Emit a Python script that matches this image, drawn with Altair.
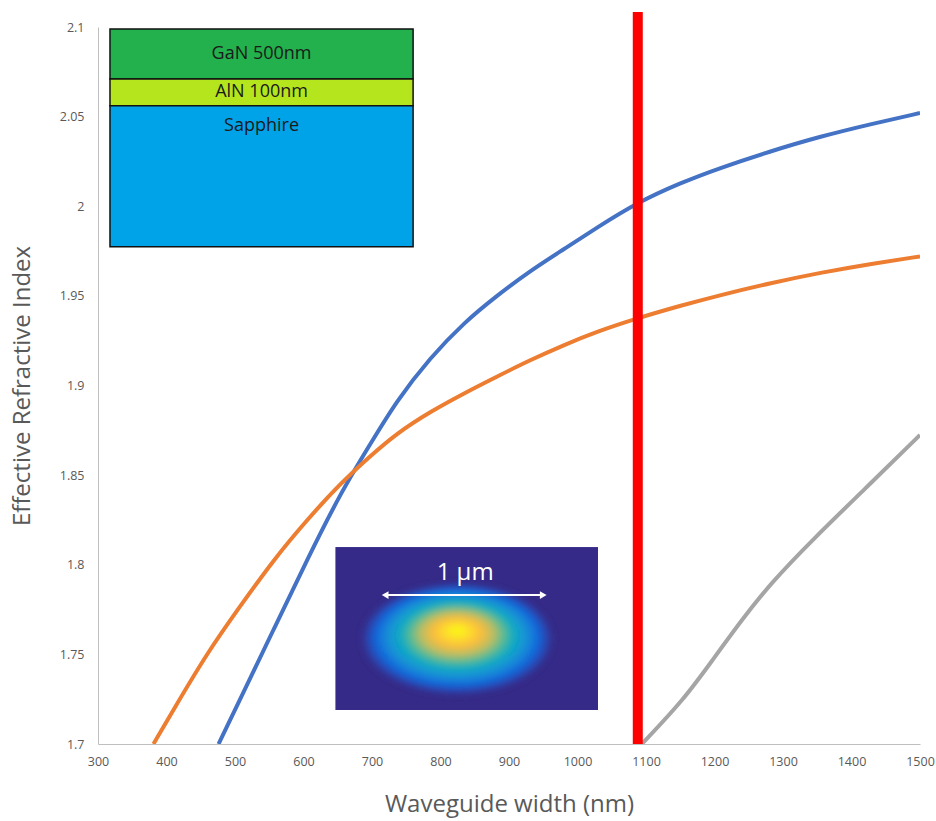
import base64
import altair as alt
import pandas as pd

# Effective index curves (waveguide width in nm)
blue_w = [476, 507, 556, 605, 654, 697, 736, 785, 834, 882, 931, 980, 1028, 1087,
          1150, 1209, 1280, 1355, 1430, 1500]
blue_n = [1.700, 1.7246, 1.7636, 1.8026, 1.840, 1.867, 1.8915, 1.9155, 1.935, 1.950,
          1.964, 1.976, 1.988, 2.002, 2.013, 2.0215, 2.0305, 2.039, 2.046, 2.052]

orange_w = [381, 410, 459, 507, 556, 605, 654, 697, 736, 785, 834, 882, 931, 980,
            1028, 1087, 1150, 1209, 1280, 1355, 1430, 1500]
orange_n = [1.700, 1.719, 1.7506, 1.7766, 1.8026, 1.825, 1.8454, 1.8605, 1.8733, 1.8854,
            1.8956, 1.9049, 1.9142, 1.9226, 1.930, 1.9375, 1.9445, 1.9505, 1.957, 1.963,
            1.968, 1.972]

gray_w = [1094, 1155, 1199, 1238, 1282, 1345, 1418, 1500]
gray_n = [1.700, 1.7246, 1.7478, 1.7683, 1.7897, 1.8147, 1.8417, 1.8724]

cutoff_width = 1088
cutoff_top = 2.1084

x_ticks = list(range(300, 1501, 100))
y_ticks = [1.7, 1.75, 1.8, 1.85, 1.9, 1.95, 2.0, 2.05, 2.1]

# Layer stack inset
stack_names = ["GaN 500nm", "AlN 100nm", "Sapphire"]
stack_top = [2.0989, 2.0710, 2.0560]
stack_bottom = [2.0710, 2.0560, 1.9774]
stack_label_y = [2.0849, 2.0635, 2.0450]
stack_colors = ["#22b14c", "#b5e61d", "#00a2e8"]
stack_left, stack_right = 317.5, 760.0

# Mode profile inset
mode_center = (838.3, 1.7644)
mode_size = (263, 163)
arrow_x = [719.2, 950.0]
arrow_y = 1.7831
scale_label = "1 µm"
scale_label_pos = (836.0, 1.7955)

FONT = "Open Sans"
GREY_TEXT = "#595959"

curves = pd.concat([
    pd.DataFrame({"w": blue_w, "n": blue_n, "s": "TE"}),
    pd.DataFrame({"w": orange_w, "n": orange_n, "s": "TM"}),
    pd.DataFrame({"w": gray_w, "n": gray_n, "s": "TE1"}),
])

x_scale = alt.Scale(domain=[300, 1500], nice=False, zero=False)
y_scale = alt.Scale(domain=[1.7, 2.1], nice=False, zero=False)

x_axis = alt.Axis(values=x_ticks, format="d", grid=False, ticks=False, domainColor="#bfbfbf",
                  labelColor=GREY_TEXT, labelFontSize=12.5, labelFont=FONT, labelPadding=11,
                  labelFlush=False,
                  title="Waveguide width (nm)", titleFont=FONT, titleFontSize=24,
                  titleFontWeight="normal", titleColor=GREY_TEXT, titlePadding=25)
y_axis = alt.Axis(values=y_ticks, format=".2~f", grid=False, ticks=False, domainColor="#bfbfbf",
                  labelColor=GREY_TEXT, labelFontSize=12.5, labelFont=FONT, labelPadding=14,
                  labelFlush=False,
                  title="Effective Refractive Index", titleFont=FONT, titleFontSize=24,
                  titleFontWeight="normal", titleColor=GREY_TEXT, titlePadding=25)

lines = alt.Chart(curves).mark_line(strokeWidth=4, interpolate="basis", clip=True).encode(
    x=alt.X("w:Q", scale=x_scale, axis=x_axis),
    y=alt.Y("n:Q", scale=y_scale, axis=y_axis),
    color=alt.Color("s:N", scale=alt.Scale(domain=["TE", "TM", "TE1"],
                                           range=["#4472c4", "#ed7d31", "#a5a5a5"]), legend=None),
    detail="s:N",
)

cutoff = alt.Chart(pd.DataFrame({"w": [cutoff_width], "top": [cutoff_top], "bot": [1.7]})).mark_rule(
    color="#ff0000", strokeWidth=10, strokeCap="butt", clip=False
).encode(x=alt.X("w:Q", scale=x_scale), y=alt.Y("top:Q", scale=y_scale), y2="bot:Q")

stack_df = pd.DataFrame({
    "name": stack_names, "top": stack_top, "bottom": stack_bottom, "ly": stack_label_y,
    "l": [stack_left] * 3, "r": [stack_right] * 3, "c": stack_colors,
})
stack_rects = alt.Chart(stack_df).mark_rect(stroke="#111111", strokeWidth=1.5).encode(
    x=alt.X("l:Q", scale=x_scale), x2="r:Q",
    y=alt.Y("top:Q", scale=y_scale), y2="bottom:Q",
    fill=alt.Fill("c:N", scale=None),
)
stack_text = alt.Chart(stack_df).mark_text(font=FONT, fontSize=18, color="#1a1a1a").encode(
    x=alt.X("xm:Q", scale=x_scale), y=alt.Y("ly:Q", scale=y_scale), text="name:N",
).transform_calculate(xm=f"{(stack_left + stack_right) / 2}")

# Mode field picture: parula-coloured elliptical spot on a dark background
mw, mh = mode_size
stops = [(0.0, "#f9fb0e"), (0.12, "#fde02a"), (0.25, "#fbbd3c"), (0.38, "#b9bd62"),
         (0.5, "#4cb99a"), (0.6, "#0fa9c5"), (0.72, "#1490d6"), (0.84, "#1068dc"),
         (0.93, "#2a45b0"), (1.0, "#352a87")]
stop_xml = "".join(f"<stop offset='{o}' stop-color='{c}'/>" for o, c in stops)
svg = (f"<svg xmlns='http://www.w3.org/2000/svg' width='{mw}' height='{mh}' viewBox='0 0 {mw} {mh}'>"
       f"<defs><radialGradient id='g' cx='0.5' cy='0.5' r='0.5' fx='0.5' fy='0.42'>{stop_xml}</radialGradient>"
       f"<filter id='b'><feGaussianBlur stdDeviation='3'/></filter></defs>"
       f"<rect width='{mw}' height='{mh}' fill='#352a87'/>"
       f"<ellipse cx='122' cy='92' rx='96' ry='56' fill='url(#g)' filter='url(#b)'/>"
       f"</svg>")
mode_url = "data:image/svg+xml;base64," + base64.b64encode(svg.encode()).decode()

mode_img = alt.Chart(pd.DataFrame({"x": [mode_center[0]], "y": [mode_center[1]], "u": [mode_url]})).mark_image(
    width=mw, height=mh, aspect=False
).encode(x=alt.X("x:Q", scale=x_scale), y=alt.Y("y:Q", scale=y_scale), url="u:N")

arrow_df = pd.DataFrame({"x": [arrow_x[0]], "x2": [arrow_x[1]], "y": [arrow_y]})
arrow_line = alt.Chart(arrow_df).mark_rule(color="white", strokeWidth=2).encode(
    x=alt.X("x:Q", scale=x_scale), x2="x2:Q", y=alt.Y("y:Q", scale=y_scale))
heads = alt.Chart(pd.DataFrame({"x": arrow_x, "y": [arrow_y] * 2,
                                "sh": ["triangle-left", "triangle-right"]})).mark_point(
    filled=True, color="white", opacity=1, size=60
).encode(x=alt.X("x:Q", scale=x_scale), y=alt.Y("y:Q", scale=y_scale),
         shape=alt.Shape("sh:N", scale=None))
scale_text = alt.Chart(pd.DataFrame({"x": [scale_label_pos[0]], "y": [scale_label_pos[1]],
                                     "t": [scale_label]})).mark_text(
    font=FONT, fontSize=24, color="white"
).encode(x=alt.X("x:Q", scale=x_scale), y=alt.Y("y:Q", scale=y_scale), text="t:N")

chart = alt.layer(
    lines, cutoff, stack_rects, stack_text, mode_img, arrow_line, heads, scale_text
).properties(
    width=822, height=717,
    autosize=alt.AutoSizeParams(type="none"),
    padding={"left": 98, "top": 27, "right": 16, "bottom": 77},
    background="white",
).configure_view(stroke=None)

chart.save("out.html", embed_options={"renderer": "svg", "actions": False})
